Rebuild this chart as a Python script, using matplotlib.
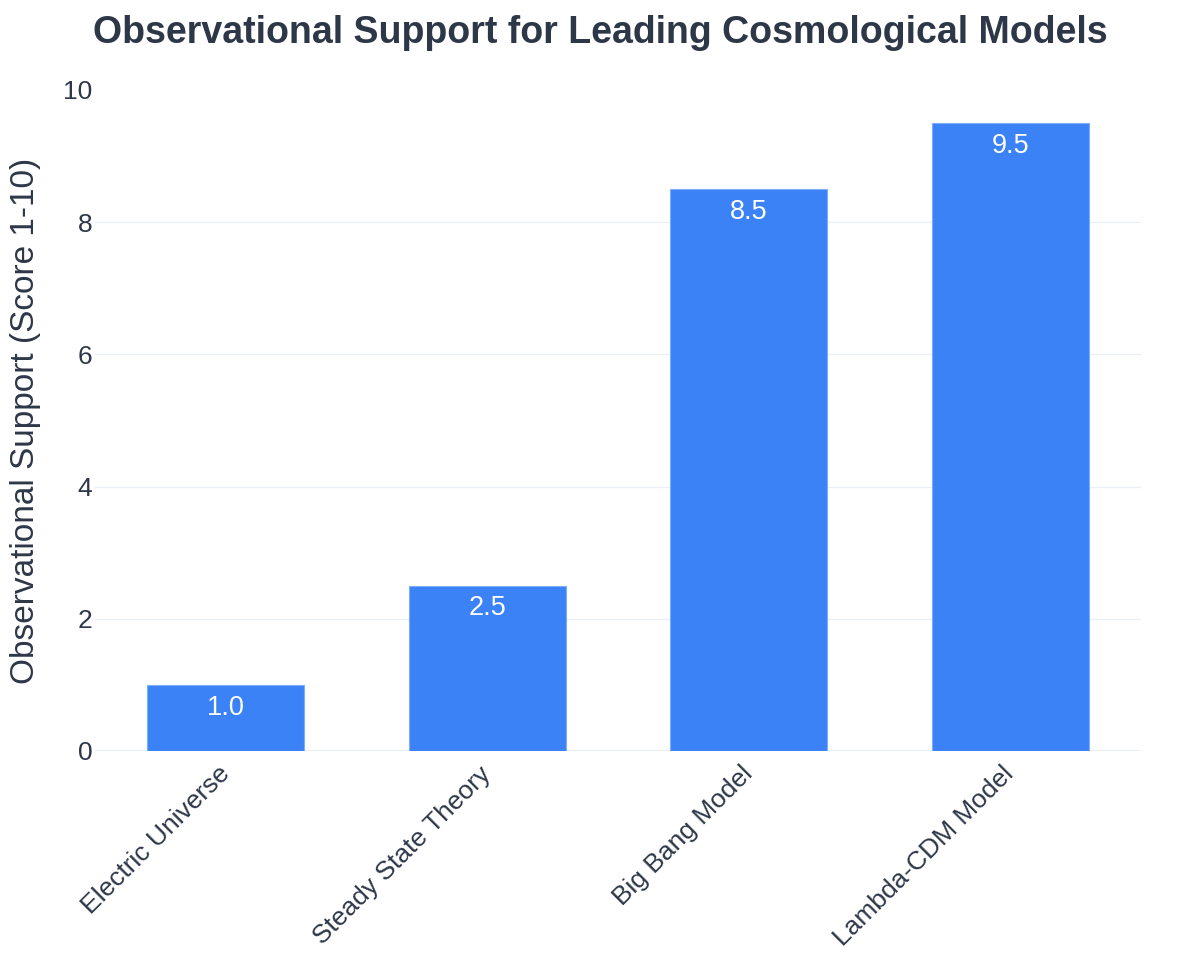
import matplotlib
matplotlib.use("Agg")
import matplotlib.pyplot as plt

categories = ["Electric Universe", "Steady State Theory", "Big Bang Model", "Lambda-CDM Model"]
scores = [1.0, 2.5, 8.5, 9.5]
yticks = [0, 2, 4, 6, 8, 10]

plt.rcParams['font.family'] = ['Liberation Sans', 'DejaVu Sans']

fig = plt.figure(figsize=(12, 9.75), dpi=100)
ax = fig.add_axes([95/1200, 1 - 751/975, (1141 - 95)/1200, (751 - 90)/975])

bar_color = "#3B82F6"
text_dark = "#2D3748"
tick_color = "#2D3748"
grid_color = "#EBF0F8"

x = list(range(len(categories)))
bars = ax.bar(x, scores, width=0.6, color=bar_color, edgecolor="#7FAEF8", linewidth=0.8, zorder=3)

for xi, v in zip(x, scores):
    ax.annotate(f"{v:.1f}", xy=(xi, v), xytext=(0, -7), textcoords="offset points",
                ha="center", va="top", color="white", fontsize=19.5, zorder=4)

ax.set_xlim(-0.5, len(categories) - 0.5)
ax.set_ylim(0, 10)
ax.set_yticks(yticks)
ax.set_yticklabels([str(t) for t in yticks], fontsize=19, color=tick_color)
ax.set_xticks(x)
ax.set_xticklabels(categories, rotation=45, ha="right", va="center", rotation_mode="anchor",
                   fontsize=19, color=tick_color)
ax.tick_params(axis="x", length=0, pad=14)
ax.tick_params(axis="y", length=0, pad=2)

for t in yticks[1:-1]:
    ax.axhline(t, color=grid_color, linewidth=1, zorder=1)
ax.axhline(0, color=grid_color, linewidth=2.5, zorder=2)

for s in ax.spines.values():
    s.set_visible(False)

ax.set_ylabel("Observational Support (Score 1-10)", fontsize=24, color=text_dark, labelpad=16)
fig.text(0.5, 1 - 33/975, "Observational Support for Leading Cosmological Models",
         ha="center", va="center", fontsize=27, fontweight="bold", color=text_dark)

fig.savefig("out.png", dpi=100, facecolor="white")
